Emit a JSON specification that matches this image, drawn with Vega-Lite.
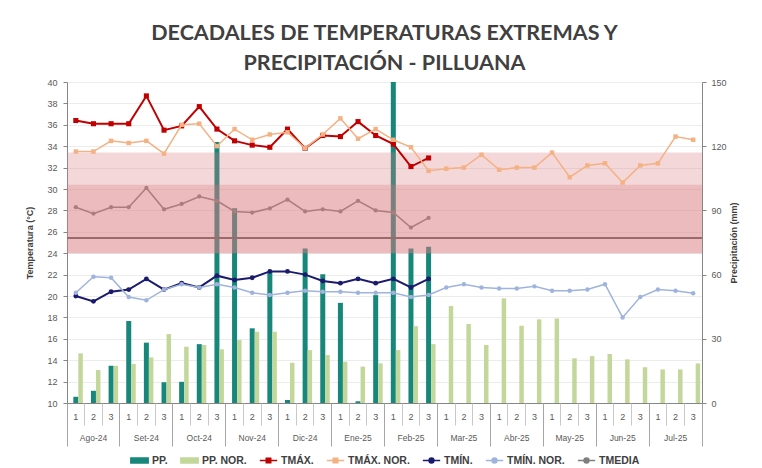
{
  "$schema": "https://vega.github.io/schema/vega-lite/v6.json",
  "width": 635,
  "height": 321,
  "autosize": {"type": "none"},
  "padding": {"left": 67, "top": 82, "right": 60, "bottom": 65},
  "background": "white",
  "title": {
    "text": ["DECADALES DE TEMPERATURAS EXTREMAS Y", "PRECIPITACIÓN - PILLUANA"],
    "font": "Lato",
    "fontSize": 21.5,
    "fontWeight": "bold",
    "color": "#404040",
    "lineHeight": 30,
    "offset": 4,
    "anchor": "middle",
    "frame": "group"
  },
  "data": {
    "values": [
      {"k": 0, "pp": 2.9, "ppn": 23.2, "tx": 36.4, "txn": 33.5, "tn": 20.0, "tnn": 20.3, "tm": 28.3},
      {"k": 1, "pp": 5.7, "ppn": 15.4, "tx": 36.1, "txn": 33.5, "tn": 19.5, "tnn": 21.8, "tm": 27.7},
      {"k": 2, "pp": 17.4, "ppn": 17.4, "tx": 36.1, "txn": 34.5, "tn": 20.4, "tnn": 21.7, "tm": 28.3},
      {"k": 3, "pp": 38.3, "ppn": 18.2, "tx": 36.1, "txn": 34.3, "tn": 20.6, "tnn": 19.9, "tm": 28.3},
      {"k": 4, "pp": 28.2, "ppn": 21.3, "tx": 38.7, "txn": 34.5, "tn": 21.6, "tnn": 19.6, "tm": 30.1},
      {"k": 5, "pp": 9.7, "ppn": 32.2, "tx": 35.5, "txn": 33.3, "tn": 20.6, "tnn": 20.6, "tm": 28.1},
      {"k": 6, "pp": 9.9, "ppn": 26.3, "tx": 35.9, "txn": 36.0, "tn": 21.2, "tnn": 21.1, "tm": 28.6},
      {"k": 7, "pp": 27.5, "ppn": 27.1, "tx": 37.7, "txn": 36.1, "tn": 20.8, "tnn": 20.8, "tm": 29.3},
      {"k": 8, "pp": 122, "ppn": 25.1, "tx": 35.6, "txn": 34.0, "tn": 21.9, "tnn": 21.1, "tm": 28.9},
      {"k": 9, "pp": 91, "ppn": 29.4, "tx": 34.5, "txn": 35.6, "tn": 21.5, "tnn": 20.8, "tm": 27.9},
      {"k": 10, "pp": 34.9, "ppn": 33.3, "tx": 34.1, "txn": 34.6, "tn": 21.7, "tnn": 20.3, "tm": 27.8},
      {"k": 11, "pp": 61.3, "ppn": 33.3, "tx": 33.9, "txn": 35.1, "tn": 22.3, "tnn": 20.1, "tm": 28.2},
      {"k": 12, "pp": 1.4, "ppn": 18.8, "tx": 35.6, "txn": 35.3, "tn": 22.3, "tnn": 20.3, "tm": 29.0},
      {"k": 13, "pp": 72.2, "ppn": 24.7, "tx": 33.8, "txn": 33.8, "tn": 22.0, "tnn": 20.5, "tm": 27.9},
      {"k": 14, "pp": 60.2, "ppn": 22.4, "tx": 35.0, "txn": 35.1, "tn": 21.4, "tnn": 20.4, "tm": 28.1},
      {"k": 15, "pp": 46.8, "ppn": 19.3, "tx": 34.9, "txn": 36.6, "tn": 21.2, "tnn": 20.4, "tm": 27.9},
      {"k": 16, "pp": 0.8, "ppn": 17.0, "tx": 36.3, "txn": 34.7, "tn": 21.6, "tnn": 20.3, "tm": 28.9},
      {"k": 17, "pp": 50.4, "ppn": 18.5, "tx": 35.0, "txn": 35.6, "tn": 21.2, "tnn": 20.3, "tm": 28.0},
      {"k": 18, "pp": 150, "ppn": 24.7, "tx": 34.2, "txn": 34.6, "tn": 21.6, "tnn": 20.3, "tm": 27.8},
      {"k": 19, "pp": 72.2, "ppn": 35.9, "tx": 32.1, "txn": 33.9, "tn": 20.8, "tnn": 19.9, "tm": 26.4},
      {"k": 20, "pp": 73.0, "ppn": 27.5, "tx": 32.9, "txn": 31.7, "tn": 21.6, "tnn": 20.1, "tm": 27.3},
      {"k": 21, "ppn": 45.3, "txn": 31.9, "tnn": 20.8},
      {"k": 22, "ppn": 36.9, "txn": 32.0, "tnn": 21.1},
      {"k": 23, "ppn": 27.1, "txn": 33.2, "tnn": 20.8},
      {"k": 24, "ppn": 48.9, "txn": 31.8, "tnn": 20.7},
      {"k": 25, "ppn": 36.1, "txn": 32.0, "tnn": 20.7},
      {"k": 26, "ppn": 39.1, "txn": 32.0, "tnn": 20.9},
      {"k": 27, "ppn": 39.5, "txn": 33.4, "tnn": 20.5},
      {"k": 28, "ppn": 20.9, "txn": 31.1, "tnn": 20.5},
      {"k": 29, "ppn": 21.9, "txn": 32.2, "tnn": 20.6},
      {"k": 30, "ppn": 22.9, "txn": 32.4, "tnn": 21.1},
      {"k": 31, "ppn": 20.4, "txn": 30.6, "tnn": 18.0},
      {"k": 32, "ppn": 16.7, "txn": 32.2, "tnn": 19.9},
      {"k": 33, "ppn": 15.7, "txn": 32.4, "tnn": 20.6},
      {"k": 34, "ppn": 15.7, "txn": 34.9, "tnn": 20.5},
      {"k": 35, "ppn": 18.5, "txn": 34.6, "tnn": 20.25}
    ]
  },
  "layer": [
    {
      "mark": {"type": "bar", "width": 5},
      "encoding": {
        "x": {
          "field": "k", "type": "ordinal",
          "scale": {"paddingInner": 0, "paddingOuter": 0},
          "axis": {"orient": "bottom", "title": null, "labelExpr": "datum.value % 3 + 1", "labelAngle": 0, "ticks": false, "domain": true, "domainColor": "#868686", "grid": false, "labelFontSize": 9, "labelColor": "#595959", "labelPadding": 9}
        },
        "y": {
          "field": "pp", "type": "quantitative",
          "scale": {"domain": [0, 150], "nice": false},
          "axis": {"orient": "right", "values": [0, 30, 60, 90, 120, 150], "title": "Precipitación (mm)", "titleAngle": 270, "tickSize": 4, "domainColor": "#868686", "tickColor": "#868686", "labelColor": "#595959", "labelFontSize": 9, "labelPadding": 5, "titleFontSize": 9, "titleFontWeight": "bold", "titleColor": "#404040", "titlePadding": 12, "grid": false}
        },
        "color": {
          "datum": "PP.", "type": "nominal",
          "scale": {
            "domain": ["PP.", "PP. NOR.", "TMÁX.", "TMÁX. NOR.", "TMÍN.", "TMÍN. NOR.", "TMEDIA"],
            "range": ["#16877a", "#c4d79b", "#c00000", "#f4b183", "#1a1a6e", "#9fb4dc", "#7f7f7f"]
          },
          "legend": {
            "orient": "none", "legendX": 63, "legendY": 369, "direction": "horizontal", "title": null,
            "labelFontSize": 10.5, "labelFontWeight": "bold", "labelColor": "#404040", "labelFont": "Liberation Sans",
            "symbolSize": 300, "columnPadding": 9, "labelOffset": 3, "padding": 0,
            "encode": {
              "symbols": {
                "update": {
                  "shape": {"signal": "(datum.value == 'PP.' || datum.value == 'PP. NOR.') ? 'M-1,-0.28H1V0.28H-1Z' : ((datum.value == 'TMÁX.' || datum.value == 'TMÁX. NOR.') ? 'M-1,0H1M-0.26,-0.26H0.26V0.26H-0.26Z' : 'M-1,0H1M-0.28,0A0.28,0.28 0 1,0 0.28,0A0.28,0.28 0 1,0 -0.28,0Z')"},
                  "fill": {"signal": "scale('color', datum.value)"},
                  "stroke": {"signal": "scale('color', datum.value)"},
                  "strokeWidth": {"value": 1.5},
                  "opacity": {"value": 1}
                }
              }
            }
          }
        }
      }
    },
    {
      "mark": {"type": "bar", "width": 4.5, "xOffset": 4.75},
      "encoding": {
        "x": {
          "field": "k", "type": "ordinal",
          "axis": {"orient": "bottom", "title": null, "values": [1, 2, 4, 5, 7, 8, 10, 11, 13, 14, 16, 17, 19, 20, 22, 23, 25, 26, 28, 29, 31, 32, 34, 35], "bandPosition": 0, "labels": false, "domain": false, "ticks": true, "tickSize": 22, "tickColor": "#c8c8c8", "grid": false}
        },
        "y": {"field": "ppn", "type": "quantitative", "scale": {"domain": [0, 150], "nice": false}, "axis": null},
        "color": {"datum": "PP. NOR.", "type": "nominal"}
      }
    },
    {
      "mark": {"type": "rule", "color": "#595959", "strokeWidth": 1.5},
      "encoding": {
        "y": {"datum": 25.4, "type": "quantitative", "scale": {"domain": [10, 40], "nice": false, "zero": false}, "axis": null}
      }
    },
    {
      "mark": {"type": "line", "strokeWidth": 1.5, "point": {"shape": "circle", "size": 18, "filled": true}},
      "encoding": {
        "x": {
          "field": "k", "type": "ordinal",
          "axis": {"orient": "bottom", "title": null, "values": [1, 4, 7, 10, 13, 16, 19, 22, 25, 28, 31, 34], "labelExpr": "['Ago-24','Set-24','Oct-24','Nov-24','Dic-24','Ene-25','Feb-25','Mar-25','Abr-25','May-25','Jun-25','Jul-25'][floor(datum.value / 3)]", "labelAngle": 0, "ticks": false, "domain": false, "grid": false, "labelFontSize": 8.5, "labelColor": "#595959", "labelPadding": 30}
        },
        "y": {"field": "tm", "type": "quantitative", "scale": {"domain": [10, 40], "nice": false, "zero": false}, "axis": null},
        "color": {"datum": "TMEDIA", "type": "nominal"}
      }
    },
    {
      "data": {"values": [{"y1": 24, "y2": 33.4}, {"y1": 24, "y2": 30.4}]},
      "mark": {"type": "rect", "color": "#dc7a80", "opacity": 0.3},
      "encoding": {
        "y": {"field": "y1", "type": "quantitative", "scale": {"domain": [10, 40], "nice": false, "zero": false}, "axis": null},
        "y2": {"field": "y2"}
      }
    },
    {
      "mark": {"type": "line", "strokeWidth": 2, "point": {"shape": "square", "size": 26, "filled": true}},
      "encoding": {
        "x": {
          "field": "k", "type": "ordinal",
          "axis": {"orient": "bottom", "title": null, "values": [0, 3, 6, 9, 12, 15, 18, 21, 24, 27, 30, 33], "bandPosition": 0, "labels": false, "domain": false, "ticks": true, "tickSize": 43, "tickColor": "#a6a6a6", "grid": false}
        },
        "y": {
          "field": "tx", "type": "quantitative", "scale": {"domain": [10, 40], "nice": false, "zero": false},
          "axis": {"orient": "left", "values": [10, 12, 14, 16, 18, 20, 22, 24, 26, 28, 30, 32, 34, 36, 38, 40], "title": "Temperatura (°C)", "tickSize": 4, "domainColor": "#868686", "tickColor": "#868686", "labelColor": "#595959", "labelFontSize": 9, "labelPadding": 6, "titleFontSize": 9, "titleFontWeight": "bold", "titleColor": "#404040", "titlePadding": 12, "grid": true, "gridColor": "#ececec"}
        },
        "color": {"datum": "TMÁX.", "type": "nominal"}
      }
    },
    {
      "mark": {"type": "line", "strokeWidth": 1.5, "point": {"shape": "square", "size": 20, "filled": true}},
      "encoding": {
        "x": {
          "field": "k", "type": "ordinal",
          "axis": {"orient": "bottom", "title": null, "values": [35], "bandPosition": 1, "labels": false, "domain": false, "ticks": true, "tickSize": 43, "tickColor": "#a6a6a6", "grid": false}
        },
        "y": {"field": "txn", "type": "quantitative", "scale": {"domain": [10, 40], "nice": false, "zero": false}, "axis": null},
        "color": {"datum": "TMÁX. NOR.", "type": "nominal"}
      }
    },
    {
      "mark": {"type": "line", "strokeWidth": 2, "point": {"shape": "circle", "size": 24, "filled": true}},
      "encoding": {
        "x": {"field": "k", "type": "ordinal", "axis": null},
        "y": {"field": "tn", "type": "quantitative", "scale": {"domain": [10, 40], "nice": false, "zero": false}, "axis": null},
        "color": {"datum": "TMÍN.", "type": "nominal"}
      }
    },
    {
      "mark": {"type": "line", "strokeWidth": 1.5, "point": {"shape": "circle", "size": 20, "filled": true}},
      "encoding": {
        "x": {"field": "k", "type": "ordinal", "axis": null},
        "y": {"field": "tnn", "type": "quantitative", "scale": {"domain": [10, 40], "nice": false, "zero": false}, "axis": null},
        "color": {"datum": "TMÍN. NOR.", "type": "nominal"}
      }
    }
  ],
  "resolve": {"scale": {"y": "independent"}, "axis": {"x": "independent"}},
  "config": {
    "font": "Liberation Sans",
    "axis": {"labelFont": "Liberation Sans", "titleFont": "Liberation Sans"},
    "view": {"stroke": "#bfbfbf"}
  }
}
